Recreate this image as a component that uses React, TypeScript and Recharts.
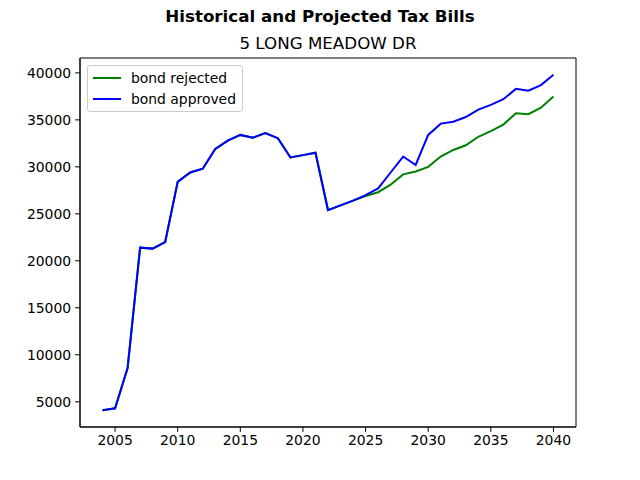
import React from 'react'
import { LineChart, Line, XAxis, YAxis, ReferenceArea } from 'recharts'

// Tax bill per year, historical values through 2024 then two projections
const years = [
  2004, 2005, 2006, 2007, 2008, 2009, 2010, 2011, 2012, 2013, 2014, 2015,
  2016, 2017, 2018, 2019, 2020, 2021, 2022, 2023, 2024, 2025, 2026, 2027,
  2028, 2029, 2030, 2031, 2032, 2033, 2034, 2035, 2036, 2037, 2038, 2039, 2040,
]

const bondRejected = [
  4100, 4300, 8600, 21400, 21300, 22000, 28400, 29400, 29800, 31900, 32800, 33400,
  33100, 33600, 33050, 31000, 31250, 31500, 25400, 25900, 26400, 26900, 27300, 28100,
  29200, 29500, 30000, 31100, 31800, 32300, 33200, 33800, 34500, 35700, 35600, 36300, 37500,
]

const bondApproved = [
  4100, 4300, 8600, 21400, 21300, 22000, 28400, 29400, 29800, 31900, 32800, 33400,
  33100, 33600, 33050, 31000, 31250, 31500, 25400, 25900, 26400, 27000, 27700, 29400,
  31100, 30200, 33400, 34600, 34800, 35300, 36100, 36600, 37200, 38300, 38100, 38700, 39800,
]

const xTicks = [2005, 2010, 2015, 2020, 2025, 2030, 2035, 2040]
const yTicks = [5000, 10000, 15000, 20000, 25000, 30000, 35000, 40000]

const rows = years.map((year, i) => ({
  year,
  rejected: bondRejected[i],
  approved: bondApproved[i],
}))

const FONT = '"DejaVu Sans", sans-serif'
const X_DOMAIN: [number, number] = [2002.2, 2041.8]
const Y_DOMAIN: [number, number] = [2315, 41585]

const legendItems = [
  { label: 'bond rejected', color: 'green' },
  { label: 'bond approved', color: 'blue' },
]

function LegendBox() {
  return (
    <div
      style={{
        position: 'absolute',
        left: 87,
        top: 65,
        border: '1px solid #cccccc',
        borderRadius: 3,
        background: 'rgba(255,255,255,0.8)',
        padding: '1px 6px 2px 5px',
        fontFamily: FONT,
        fontSize: 13.9,
        color: '#000',
      }}
    >
      {legendItems.map((item) => (
        <div key={item.label} style={{ display: 'flex', alignItems: 'center', height: 21 }}>
          <svg width={28} height={4} style={{ marginRight: 10 }}>
            <line x1={0} y1={2} x2={28} y2={2} stroke={item.color} strokeWidth={2} />
          </svg>
          <span>{item.label}</span>
        </div>
      ))}
    </div>
  )
}

export default function App() {
  return (
    <div style={{ position: 'absolute', left: 0, top: 0, width: 640, height: 480, background: '#fff' }}>
      <div
        style={{
          position: 'absolute',
          top: 6,
          width: 640,
          textAlign: 'center',
          fontFamily: FONT,
          fontWeight: 'bold',
          fontSize: 16.7,
        }}
      >
        Historical and Projected Tax Bills
      </div>
      <div
        style={{
          position: 'absolute',
          top: 33,
          left: 80,
          width: 496,
          textAlign: 'center',
          fontFamily: FONT,
          fontSize: 16.7,
        }}
      >
        5 LONG MEADOW DR
      </div>
      <LineChart
        width={640}
        height={480}
        data={rows}
        margin={{ top: 58, right: 64, bottom: 0, left: 0 }}
      >
        <XAxis
          dataKey="year"
          type="number"
          domain={X_DOMAIN}
          ticks={xTicks}
          allowDataOverflow
          height={53}
          tickSize={4.9}
          tickMargin={3}
          axisLine={{ stroke: '#000' }}
          tickLine={{ stroke: '#000' }}
          tick={{ fill: '#000', fontSize: 13.9, fontFamily: FONT }}
        />
        <YAxis
          type="number"
          domain={Y_DOMAIN}
          ticks={yTicks}
          allowDataOverflow
          width={80}
          tickSize={4.9}
          tickMargin={4}
          axisLine={{ stroke: '#000' }}
          tickLine={{ stroke: '#000' }}
          tick={{ fill: '#000', fontSize: 13.9, fontFamily: FONT }}
        />
        <ReferenceArea
          x1={X_DOMAIN[0]}
          x2={X_DOMAIN[1]}
          y1={Y_DOMAIN[0]}
          y2={Y_DOMAIN[1]}
          fill="none"
          stroke="#000"
          strokeWidth={1}
        />
        <Line
          dataKey="rejected"
          name="bond rejected"
          stroke="green"
          strokeWidth={2}
          dot={false}
          isAnimationActive={false}
        />
        <Line
          dataKey="approved"
          name="bond approved"
          stroke="blue"
          strokeWidth={2}
          dot={false}
          isAnimationActive={false}
        />
      </LineChart>
      <LegendBox />
    </div>
  )
}
